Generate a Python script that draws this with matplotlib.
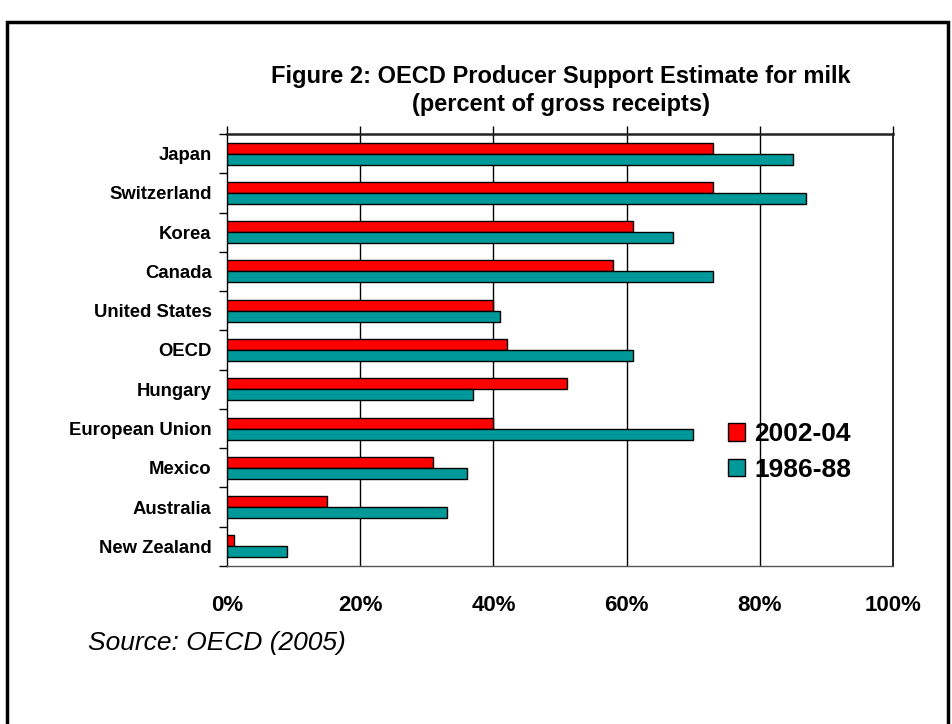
import matplotlib
matplotlib.use("Agg")
import matplotlib.pyplot as plt
import numpy as np
from matplotlib.patches import Patch, Rectangle

countries = ["Japan", "Switzerland", "Korea", "Canada", "United States", "OECD",
             "Hungary", "European Union", "Mexico", "Australia", "New Zealand"]
pse_2002_04 = [73, 73, 61, 58, 40, 42, 51, 40, 31, 15, 1]
pse_1986_88 = [85, 87, 67, 73, 41, 61, 37, 70, 36, 33, 9]
x_ticks = [0, 20, 40, 60, 80, 100]
x_labels = ["0%", "20%", "40%", "60%", "80%", "100%"]

RED = "#FF0000"
TEAL = "#009999"

plt.rcParams["font.family"] = ["Liberation Sans", "DejaVu Sans"]

fig = plt.figure(figsize=(9.52, 7.24), dpi=100)
ax = fig.add_axes([227 / 952, 1 - 566 / 724, 666 / 952, 432 / 724])

y = np.arange(len(countries))
h = 0.28
ax.barh(y - h / 2, pse_2002_04, height=h, color=RED, edgecolor="black",
        linewidth=1, label="2002-04", zorder=3)
ax.barh(y + h / 2, pse_1986_88, height=h, color=TEAL, edgecolor="black",
        linewidth=1, label="1986-88", zorder=3)

ax.set_xlim(0, 100)
ax.set_ylim(len(countries) - 0.5, -0.5)

ax.set_xticks(x_ticks)
ax.set_xticklabels(x_labels, fontsize=16, fontweight="bold")
ax.tick_params(axis="x", top=True, bottom=False, labeltop=False, labelbottom=True,
               direction="out", length=6, width=1, pad=15)

ax.set_yticks(y)
ax.set_yticklabels(countries, fontsize=13.3, fontweight="bold")
ax.tick_params(axis="y", which="major", length=0, pad=11)
ax.set_yticks(np.arange(len(countries) + 1) - 0.5, minor=True)
ax.tick_params(axis="y", which="minor", length=6, width=1, direction="out")

for v in x_ticks[1:-1]:
    ax.axvline(v, color="black", linewidth=1, zorder=1)

ax.spines["top"].set_linewidth(1.8)
ax.spines["top"].set_color("#222222")
ax.spines["bottom"].set_color("#555555")
ax.spines["bottom"].set_linewidth(1)
ax.spines["left"].set_linewidth(1)
ax.spines["right"].set_linewidth(1.2)

handles = [Patch(facecolor=RED, edgecolor="black", label="2002-04"),
           Patch(facecolor=TEAL, edgecolor="black", label="1986-88")]
ax.legend(handles=handles, loc="center left", frameon=False,
          bbox_to_anchor=(717 / 952, 1 - 452 / 724), bbox_transform=fig.transFigure,
          prop={"size": 19, "weight": "bold"}, handlelength=0.65, handleheight=0.65,
          handletextpad=0.35, labelspacing=0.45, borderaxespad=0)

fig.text(561 / 952, 1 - 77 / 724, "Figure 2: OECD Producer Support Estimate for milk",
         ha="center", va="center", fontsize=17, fontweight="bold")
fig.text(561 / 952, 1 - 104 / 724, "(percent of gross receipts)",
         ha="center", va="center", fontsize=17, fontweight="bold")
fig.text(88 / 952, 1 - 643 / 724, "Source: OECD (2005)", ha="left", va="center",
         fontsize=19, fontstyle="italic")

fig.patches.append(Rectangle((7 / 952, -0.05), 941 / 952, 1.05 - 22 / 724,
                             transform=fig.transFigure, fill=False,
                             edgecolor="black", linewidth=2.5))

fig.savefig("out.png", dpi=100)
